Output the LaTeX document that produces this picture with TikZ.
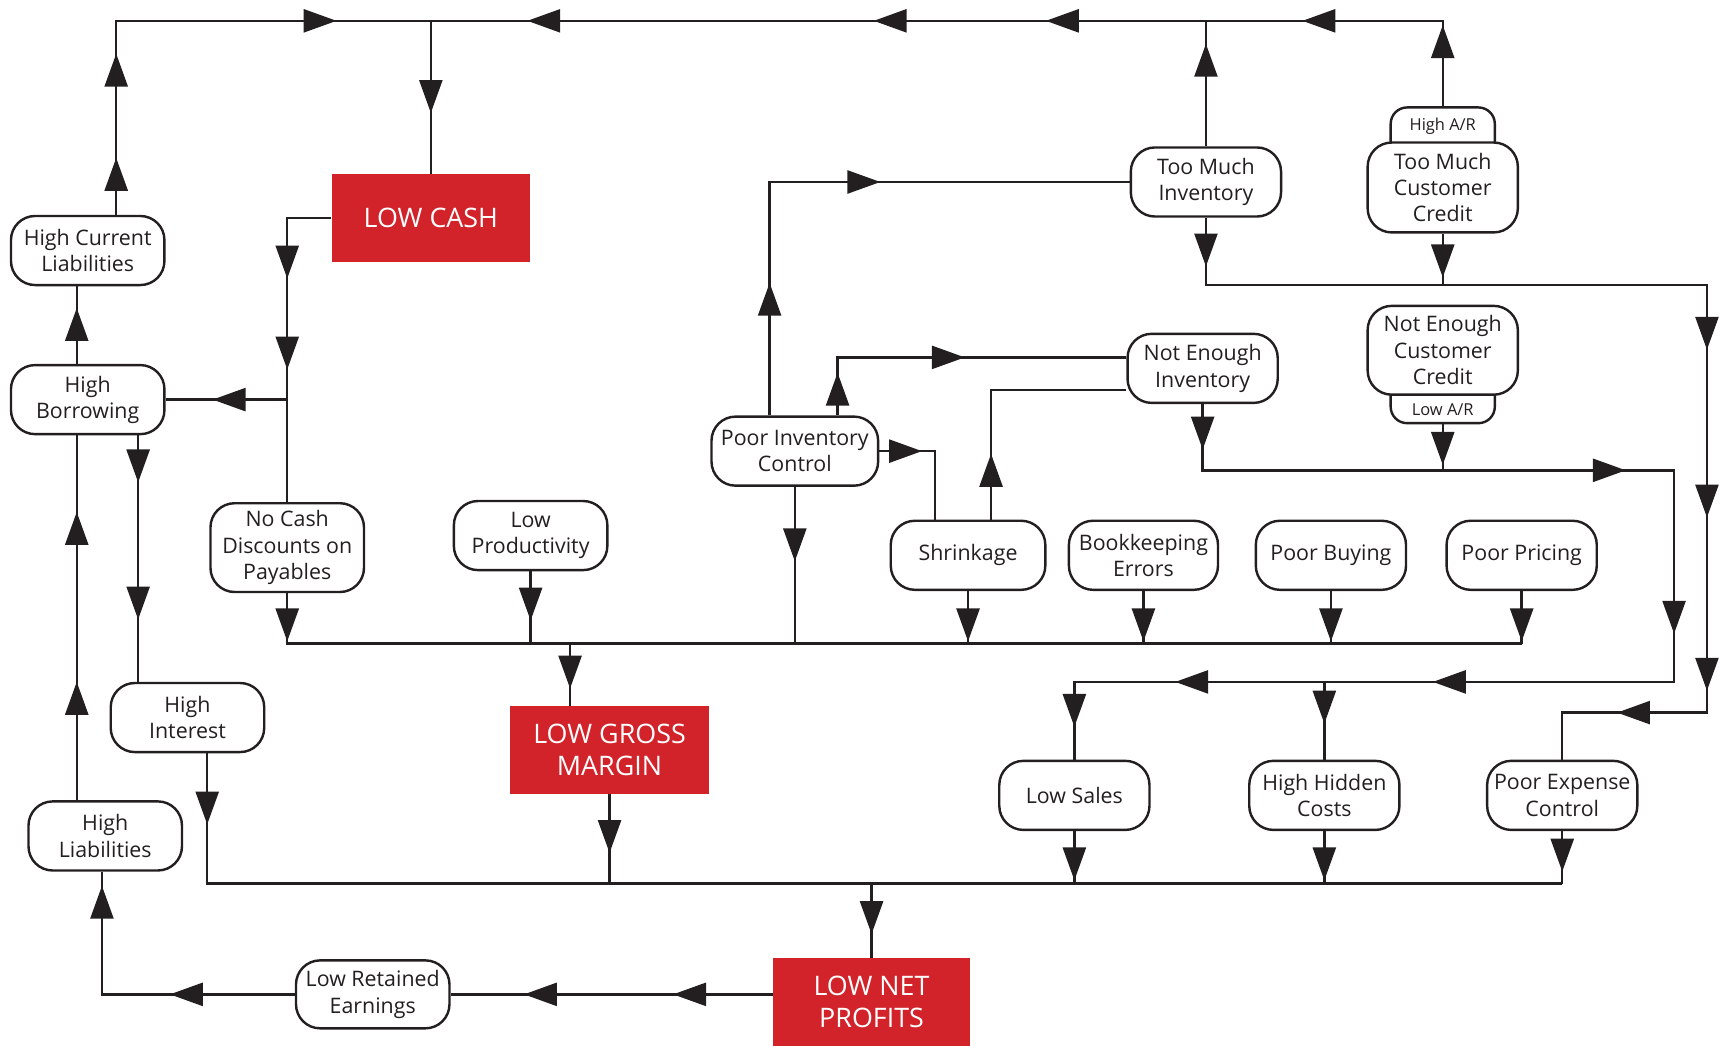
\documentclass[tikz,border=0pt]{standalone}
\usepackage{fontspec}
\setmainfont{Open Sans}
\usetikzlibrary{arrows.meta}
\definecolor{lcred}{HTML}{D2232A}
\definecolor{ink}{HTML}{231F20}
\newcommand\aD[2]{\draw[ah] (#1,{#2-30}) -- (#1,#2);}
\newcommand\aU[2]{\draw[ah] (#1,{#2+30}) -- (#1,#2);}
\newcommand\aL[2]{\draw[ah] ({#1+30},#2) -- (#1,#2);}
\newcommand\aR[2]{\draw[ah] ({#1-30},#2) -- (#1,#2);}
\begin{document}
\begin{tikzpicture}[x=1pt,y=-1pt,
  conn/.style={line width=2.2pt, draw=ink},
  ah/.style={draw=ink, fill=ink, line width=2.2pt, -{Triangle[length=30pt,width=21pt]}},
  box/.style={draw=ink, line width=2.2pt, fill=white, rounded corners=22pt, align=center, inner sep=0pt,
    minimum width=140pt, minimum height=63pt, font=\fontsize{19.5}{24}\selectfont, text=ink},
  redbox/.style={fill=lcred, text=white, align=center, inner sep=0pt, minimum width=181pt,
    minimum height=80pt, font=\fontsize{24.5}{29.5}\selectfont},
  tab/.style={draw=ink, line width=2.2pt, fill=white, rounded corners=15pt, minimum width=95pt, inner sep=0pt},
  tabtxt/.style={font=\fontsize{15}{17}\selectfont, text=ink, inner sep=0pt}
]
\useasboundingbox (0,0) rectangle (1568,954);
% helper coordinates
\coordinate (tl) at (106,19);
\coordinate (tj) at (393,19);
\coordinate (mb) at (0,587);
\coordinate (bb) at (0,806);
\coordinate (xa) at (70,0);
\coordinate (xb) at (126,0);
\coordinate (xg) at (520,0);
\coordinate (xs) at (853,0);
\coordinate (xt) at (904,0);
\coordinate (xr1) at (1557,0);
\coordinate (xr2) at (1527,0);
\coordinate (ya) at (0,260);
\coordinate (yb) at (0,429);
\coordinate (yc) at (0,650);
\coordinate (yd) at (0,622);

% red boxes
\node[redbox] (lc) at (393,199) {LOW CASH};
\node[redbox] (lgm) at (556,684) {LOW GROSS\\MARGIN};
\node[redbox, minimum width=180pt] (lnp) at (795,914) {LOW NET\\PROFITS};

% rounded boxes
\node[box] (hcl) at (80,228.5) {High Current\\Liabilities};
\node[box] (hb) at (80,364.5) {High\\Borrowing};
\node[box] (hi) at (171,654.5) {High\\Interest};
\node[box] (hl) at (96,762.5) {High\\Liabilities};
\node[box, minimum height=81pt] (ncd) at (262,499.5) {No Cash\\Discounts on\\Payables};
\node[box] (lp) at (484,488.5) {Low\\Productivity};
\node[box, minimum width=152pt] (pic) at (725,411.5) {Poor Inventory\\Control};
\node[box, minimum width=141pt] (shr) at (883,506.5) {Shrinkage};
\node[box, minimum width=136pt] (be) at (1043,506.5) {Bookkeeping\\Errors};
\node[box, minimum width=137pt] (pb) at (1214,506.5) {Poor Buying};
\node[box, minimum width=137pt] (pp) at (1388,506.5) {Poor Pricing};
\node[box, minimum width=137pt] (nei) at (1097,336) {Not Enough\\Inventory};
\node[box, minimum width=137pt] (tmi) at (1100,166) {Too Much\\Inventory};
\node[tab, minimum height=48pt] (har) at (1316,122) {};
\node[box, minimum width=137pt, minimum height=82pt] (tmcc) at (1316,171) {Too Much\\Customer\\Credit};
\node[tabtxt] (hart) at (1316,115) {High A/R};
\node[tab, minimum height=42pt] (lar) at (1316,365) {};
\node[box, minimum width=137pt, minimum height=81pt] (necc) at (1316,319.5) {Not Enough\\Customer\\Credit};
\node[tabtxt] (lart) at (1316,374) {Low A/R};
\node[box, minimum width=137pt] (ls) at (980,725.5) {Low Sales};
\node[box, minimum width=137pt] (hhc) at (1208,725.5) {High Hidden\\Costs};
\node[box, minimum width=137pt] (pec) at (1425,725.5) {Poor Expense\\Control};
\node[box, minimum height=62pt] (lre) at (340,907) {Low Retained\\Earnings};

% top loop to LOW CASH
\draw[conn] (hcl.north -| tl) -- (tl) -- (tj) -- (lc.north);
\aU{106}{144} \aU{106}{49} \aR{307}{19} \aD{393}{103}
\draw[conn] (har.north) -- (har.north |- tl) -- (tj);
\aU{1316}{23} \aL{1188}{19} \aL{954}{19} \aL{797}{19} \aL{481}{19}
\draw[conn] (tmi.north) -- (tmi.north |- tl);
\aU{1100}{40}

% LOW CASH outputs
\draw[conn] (lc.west) -| (ncd.north);
\draw[conn] (hb.east) -- (hb.east -| ncd.north);
\aD{262}{254} \aD{262}{337} \aL{194}{364.5}

% left column
\draw[conn] (hb.north -| xa) -- (hcl.south -| xa);
\aU{70}{281}
\draw[conn] (hl.north -| xa) -- (hb.south -| xa);
\aU{70}{467} \aU{70}{622}
\draw[conn] (hb.south -| xb) -- (hi.north -| xb);
\aD{126}{440} \aD{126}{565}

% bottom bus to LOW NET PROFITS
\draw[conn] ([xshift=18pt]hi.south) |- (pec.south |- bb);
\aD{189}{752}
\draw[conn] (lgm.south) -- (lgm.south |- bb); \aD{556}{778}
\draw[conn] (ls.south) -- (ls.south |- bb); \aD{980}{803}
\draw[conn] (hhc.south) -- (hhc.south |- bb); \aD{1208}{803}
\draw[conn] (pec.south) -- (pec.south |- bb); \aD{1425}{795}
\draw[conn] (lnp.north |- bb) -- (lnp.north); \aD{795}{852}

% LOW NET PROFITS -> Low Retained Earnings -> High Liabilities
\draw[conn] (lnp.west |- lre.east) -- (lre.east);
\aL{614}{907} \aL{478}{907}
\draw[conn] (lre.west) -| ([xshift=-3pt]hl.south);
\aL{155}{907} \aU{93}{808}

% middle bus to LOW GROSS MARGIN
\draw[conn] (ncd.south) |- (pp.south |- mb);
\aD{262}{585}
\draw[conn] (lp.south) -- (lp.south |- mb); \aD{484}{566}
\draw[conn] (pic.south) -- (pic.south |- mb); \aD{725}{512}
\draw[conn] (shr.south) -- (shr.south |- mb); \aD{883}{585}
\draw[conn] (be.south) -- (be.south |- mb); \aD{1043}{585}
\draw[conn] (pb.south) -- (pb.south |- mb); \aD{1214}{585}
\draw[conn] (pp.south) -- (pp.south |- mb); \aD{1388}{585}
\draw[conn] (mb -| xg) -- (lgm.north -| xg); \aD{520}{628}

% Poor Inventory Control outputs
\draw[conn] ([xshift=-23pt]pic.north) |- (tmi.west);
\aU{702}{258} \aR{803}{166}
\draw[conn] ([xshift=39pt]pic.north) |- ([yshift=10pt]nei.west);
\aU{764}{340} \aR{880}{326}
\draw[conn] (pic.east) -| (shr.north -| xs);
\aR{841}{411.5}
\draw[conn] (shr.north -| xt) |- ([yshift=-20pt]nei.west);
\aU{904}{414}

% Too much inventory / credit -> Poor Expense Control
\draw[conn] (tmi.south) -- (tmi.south |- ya) -- (ya -| xr1) -- (xr1 |- yc) -- (yc -| pec.north) -- (pec.north);
\draw[conn] (tmcc.south) -- (tmcc.south |- ya);
\aD{1100}{243} \aD{1316}{253} \aD{1557}{319} \aD{1557}{472} \aD{1557}{630} \aL{1475}{650}

% Not enough inventory / credit -> Low Sales, High Hidden Costs
\draw[conn] (nei.south) -- (nei.south |- yb) -- (yb -| xr2) -- (xr2 |- yd) -- (yd -| ls.north) -- (ls.north);
\draw[conn] (lar.south) -- (lar.south |- yb);
\draw[conn] (hhc.north |- yd) -- (hhc.north);
\aD{1097}{410} \aD{1316}{424} \aR{1483}{429} \aD{1527}{578} \aL{1307}{622} \aL{1072}{622} \aD{980}{663} \aD{1208}{660}
\end{tikzpicture}
\end{document}
